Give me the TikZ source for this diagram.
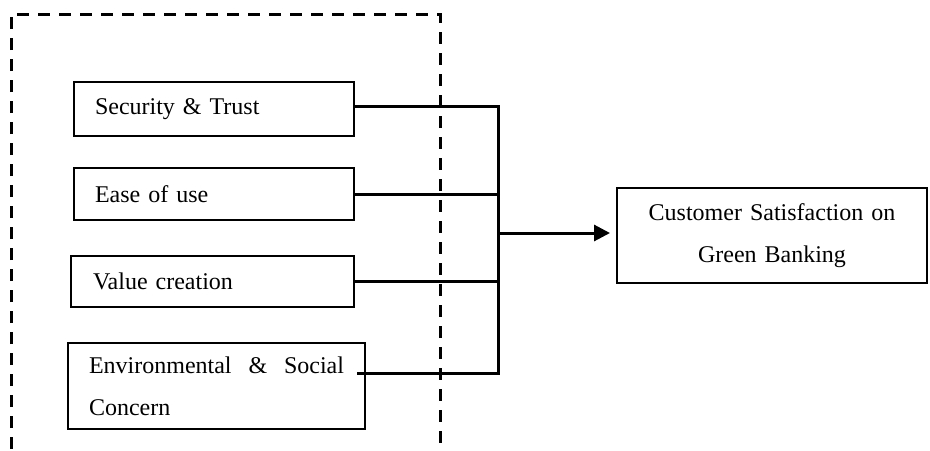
\documentclass[tikz,border=0pt]{standalone}
\usepackage{fontspec}
\setmainfont{Liberation Serif}
\usetikzlibrary{positioning, arrows.meta}

\begin{document}
\begin{tikzpicture}[x=0.5pt,y=-0.5pt,every node/.style={outer sep=0pt},
        font=\fontsize{12}{21}\selectfont,
        factor/.style={draw,line width=1pt,anchor=north west,align=left,inner xsep=10.5pt,inner ysep=0pt},
        link/.style={line width=1.5pt},
        frame/.style={line width=1.5pt,dash pattern=on 6pt off 4.5pt}]
        \useasboundingbox (0,0) rectangle (930,450);
        % dashed frame, open at the bottom (runs off the page)
        \coordinate (frame-bl) at (11,470);
        \coordinate (frame-tr) at (440,14);
        \coordinate (frame-br) at (440,470);
        \draw[frame] (frame-bl) |- (frame-tr) -- (frame-br);
        % factors
        \node[factor,text width=119pt,minimum height=27pt] (sec) at (74,82) {Security \& Trust};
        \node[factor,text width=119pt,minimum height=26pt] (ease) at (74,168) {Ease of use};
        \node[factor,text width=119.5pt,inner xsep=11pt,minimum height=25.5pt] (value) at (71,256) {Value creation};
        \node[factor,text width=127.5pt,minimum height=43pt] (env) at (68,343) {Environmental\hfill\&\hfill Social\\Concern};
        % outcome
        \node[draw,line width=1pt,anchor=north west,align=center,text width=140pt,inner xsep=7.5pt,minimum height=47.5pt] (sat) at (617,188) {Customer Satisfaction on\\Green Banking};
        % connectors
        \coordinate (hub) at (498,233);
        \coordinate (envout) at (357,373);
        \draw[link] ([yshift=1.5pt]sec.east) -| (hub |- envout) -- (envout);
        \foreach \f in {ease,value} {
            \draw[link] (\f.east) -- (\f.east -| hub);
        }
        \draw[link,-{Triangle[length=8pt,width=8pt]},shorten >=3.5pt] (hub) -- (hub -| sat.west);
    \end{tikzpicture}
\end{document}
